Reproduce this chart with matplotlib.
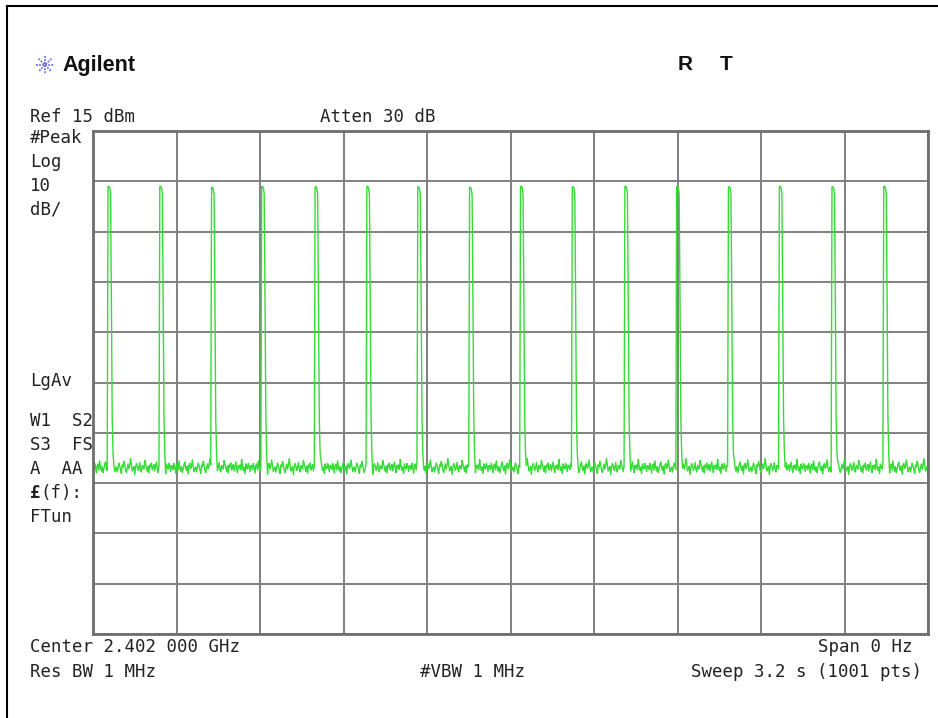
import numpy as np
import matplotlib.pyplot as plt
from matplotlib.lines import Line2D

# instrument settings
ref_level = 15.0       # dBm, top of screen
db_per_div = 10.0
sweep_time = 3.2       # s
n_pts = 1001

# pulse start times (s) and top levels (dBm)
peak_times = [0.058, 0.256, 0.456, 0.648, 0.850, 1.048, 1.244, 1.444,
              1.639, 1.838, 2.038, 2.238, 2.436, 2.632, 2.832, 3.030]
peak_levels = [4.0, 4.0, 3.8, 4.0, 3.9, 4.0, 3.9, 3.8,
               4.0, 3.9, 4.0, 4.0, 3.9, 4.0, 3.9, 4.0]
# shape of one burst relative to its top level (dB), sample by sample
pulse_shape = [0.0, 0.0, -0.3, -1.5, -22.0, -46.0, -53.0]

# noise floor (dBm) and its ripple, read roughly from the flat parts
floor_level = -52.0
floor_ripple = [0.4, -0.3, 0.9, 0.2, -1.0, 0.5, 0.8, -0.4, 1.4, 0.1,
                -0.6, 0.3, -0.9, -0.2, 0.7, 1.2, 0.0, -0.5, 0.4, -1.2,
                0.6, 0.9, -0.1, 0.3, 1.6, 0.5, -0.7, -0.2, 0.2, -0.8,
                0.1, 1.0, 0.4, -0.3, -1.1, 0.6, 0.2, 1.3, 0.7, -0.4,
                -0.9, 0.0, 0.8, -0.2, 0.5, 1.9, 0.6, -0.6, -0.1, 0.3,
                -1.3, 0.2, 0.9, 0.4, -0.5, 0.1, 1.1, -0.3, -0.8, 0.5,
                0.3, -0.2, 1.5, 0.8, 0.0, -0.7, 0.4, -1.0, 0.6, 0.2,
                1.0, -0.4, 0.1, 0.7, -0.6, 0.3, 1.2, -0.1, -0.9, 0.5,
                0.0, 0.6, -0.3, 1.7, 0.4, -0.5, 0.2, -1.1, 0.8, 0.1,
                -0.2, 0.9, 0.3, -0.7, 0.5]

t = np.linspace(0, sweep_time, n_pts)
trace = np.array([floor_level + floor_ripple[i % len(floor_ripple)]
                  for i in range(n_pts)])
for pt, pl in zip(peak_times, peak_levels):
    i0 = int(round(pt / sweep_time * (n_pts - 1)))
    for k, d in enumerate(pulse_shape):
        if i0 + k < n_pts:
            trace[i0 + k] = max(trace[i0 + k], pl + d)

W, H = 938, 718
fig = plt.figure(figsize=(W / 100, H / 100), dpi=100)


def fx(x):
    return x / W


def fy(y):
    return 1 - y / H


# frame edges of the screenshot
fig.add_artist(Line2D([fx(7), fx(7)], [fy(6), 0], color='black', lw=1.5))
fig.add_artist(Line2D([fx(7), 1], [fy(6), fy(6)], color='black', lw=1.5))

ax = fig.add_axes([fx(93), fy(634), fx(928) - fx(93), fy(131) - fy(634)])
ax.plot(t, trace, color='#35dc35', lw=1.0)
ax.set_xlim(0, sweep_time)
ax.set_ylim(ref_level - 10 * db_per_div, ref_level)
ax.set_xticks(np.linspace(0, sweep_time, 11))
ax.set_yticks(np.arange(ref_level - 10 * db_per_div, ref_level + 1, db_per_div))
ax.tick_params(length=0, labelbottom=False, labelleft=False)
ax.grid(True, color='#808080', lw=1.4)
ax.set_axisbelow(True)
for s in ax.spines.values():
    s.set_color('#6e6e6e')
    s.set_linewidth(2)

# Agilent logo spark
cx, cy, r = 45, 65, 9
for a in np.arange(0, 180, 45):
    dx, dy = r * np.cos(np.radians(a)), r * np.sin(np.radians(a))
    fig.add_artist(Line2D([fx(cx - dx), fx(cx + dx)], [fy(cy - dy), fy(cy + dy)],
                          color='#7070e0', lw=1.3, ls=(0, (1.0, 0.7))))
fig.text(fx(62), fy(66), 'Agilent', fontfamily='Liberation Sans', fontweight='bold',
         fontsize=15.5, va='center', ha='left', color='#111111')
fig.text(fx(685), fy(64), 'R', fontfamily='Liberation Sans', fontweight='bold',
         fontsize=15, va='center', ha='center', color='#111111')
fig.text(fx(726), fy(64), 'T', fontfamily='Liberation Sans', fontweight='bold',
         fontsize=15, va='center', ha='center', color='#111111')

mono = dict(fontfamily='DejaVu Sans Mono', fontsize=12.5, color='#222222', va='center')
fig.text(fx(30), fy(117), 'Ref 15 dBm', ha='left', **mono)
fig.text(fx(320), fy(117), 'Atten 30 dB', ha='left', **mono)

left_labels = [('#Peak', 138), ('Log', 162), ('10', 186), ('dB/', 210),
               ('LgAv', 381), ('W1  S2', 421), ('S3  FS', 445), ('A  AA', 469),
               ('FTun', 517)]
for s, y in left_labels:
    fig.text(fx(30), fy(y), s, ha='left', **mono)
fig.text(fx(30), fy(493), '£', ha='left', fontweight='bold', **mono)
fig.text(fx(40), fy(493), '(f):', ha='left', **mono)

fig.text(fx(30), fy(647), 'Center 2.402 000 GHz', ha='left', **mono)
fig.text(fx(912), fy(647), 'Span 0 Hz', ha='right', **mono)
fig.text(fx(30), fy(672), 'Res BW 1 MHz', ha='left', **mono)
fig.text(fx(420), fy(672), '#VBW 1 MHz', ha='left', **mono)
fig.text(fx(922), fy(672), 'Sweep 3.2 s (1001 pts)', ha='right', **mono)

fig.savefig('out.png', dpi=100)
